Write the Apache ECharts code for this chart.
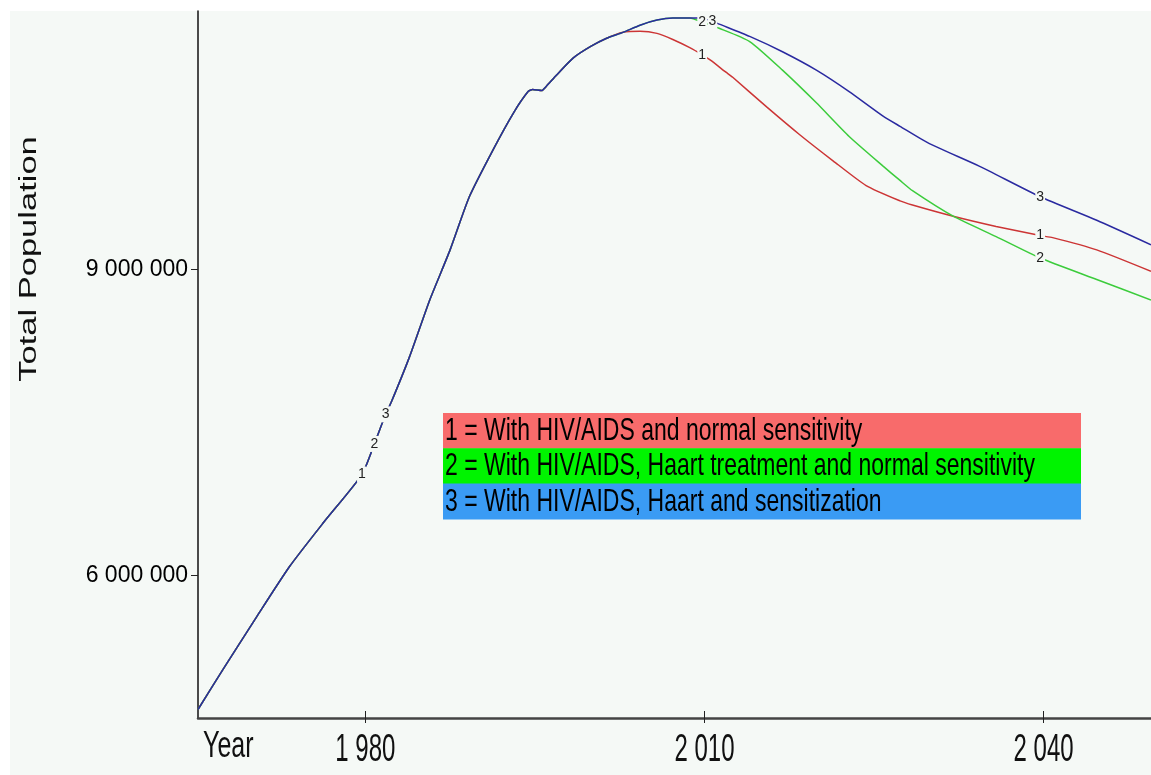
<!DOCTYPE html>
<html><head><meta charset="utf-8">
<script src="https://cdn.jsdelivr.net/npm/echarts@6/dist/echarts.min.js"></script>
<style>html,body{margin:0;padding:0;background:#fff;}#c{width:1151px;height:775px;}</style>
</head><body><div id="c"></div>
<script>
// ---- data (population) ----
const seriesNames = [
  '1 = With HIV/AIDS and normal sensitivity',
  '2 = With HIV/AIDS, Haart treatment and normal sensitivity',
  '3 = With HIV/AIDS, Haart and sensitization'
];
const seriesIds = ['1', '2', '3'];
// common history of all three runs
const sharedYears = [1965.2, 1967.4, 1970.4, 1973.3, 1976.3, 1979.7, 1980.8, 1981.8, 1982.3, 1983.9, 1985.7, 1987.5, 1989.2, 1991.3, 1993.1, 1994.4, 1994.8, 1995.6, 1996.0, 1996.9, 1998.4, 1999.9, 2001.3, 2002.8];
const sharedPop = [4690000, 5080000, 5600000, 6090000, 6520000, 6990000, 7290000, 7580000, 7700000, 8140000, 8700000, 9190000, 9710000, 10170000, 10530000, 10740000, 10760000, 10750000, 10790000, 10900000, 11070000, 11180000, 11260000, 11320000];
// common part of runs 2 and 3
const treatedYears = [2004.3, 2005.8, 2007.2, 2008.7];
const treatedPop = [11390000, 11440000, 11460000, 11460000];
// run 1
const s1Years = [2004.3, 2005.8, 2007.2, 2008.7, 2009.8, 2010.5, 2011.9, 2012.5, 2015.5, 2018.4, 2021.4, 2024.3, 2027.3, 2028.4, 2032.0, 2035.8, 2039.7, 2040.8, 2044.7, 2049.5];
const s1Pop = [11330000, 11310000, 11250000, 11170000, 11100000, 11050000, 10930000, 10880000, 10590000, 10320000, 10060000, 9820000, 9670000, 9630000, 9520000, 9420000, 9330000, 9310000, 9190000, 8980000];
// run 2
const s2Years = [2009.8, 2011.3, 2014.0, 2016.9, 2019.9, 2022.8, 2025.8, 2027.3, 2028.4, 2032.0, 2035.8, 2039.7, 2044.7, 2049.5];
const s2Pop = [11420000, 11360000, 11230000, 10950000, 10630000, 10300000, 10010000, 9870000, 9770000, 9520000, 9320000, 9110000, 8900000, 8700000];
// run 3
const s3Years = [2009.6, 2010.7, 2011.1, 2014.0, 2016.9, 2019.9, 2022.8, 2025.8, 2027.3, 2029.9, 2034.3, 2039.7, 2044.7, 2049.5];
const s3Pop = [11460000, 11430000, 11410000, 11280000, 11130000, 10950000, 10740000, 10500000, 10400000, 10230000, 10010000, 9710000, 9480000, 9240000];
// where the run numbers are written on the curves
const labelYears1 = [1979.7, 2009.8, 2039.7];
const labelYears2 = [1980.8, 2009.8, 2039.7];
const labelYears3 = [1981.8, 2010.7, 2039.7];
// axes
const xTickValues = [1980, 2010, 2040];
const xTickLabels = ['1 980', '2 010', '2 040'];
const yTickValues = [6000000, 9000000];
const yTickLabels = ['6 000 000', '9 000 000'];
const yAxisTitle = 'Total Population';
const xAxisTitle = 'Year';

// ---- styling ----
const BG = '#f5f9f6';
const lineColors = ['#cc3535', '#3ccc3c', '#2a2aa0'];
const legendColors = ['#f86b6b', '#00f400', '#3a9bf4'];
const FONT = '"Liberation Sans", Arial, sans-serif';

function build(years, pops) { return years.map((y, i) => [y, pops[i]]); }
const data1 = build(sharedYears.concat(s1Years), sharedPop.concat(s1Pop));
const data2 = build(sharedYears.concat(treatedYears, s2Years), sharedPop.concat(treatedPop, s2Pop));
const data3 = build(sharedYears.concat(treatedYears, s3Years), sharedPop.concat(treatedPop, s3Pop));
const allData = [data1, data2, data3];
const allLabelYears = [labelYears1, labelYears2, labelYears3];

function markPts(data, yrs) {
  return yrs.map(y => { const p = data.find(d => d[0] === y); return { coord: [p[0], p[1]] }; });
}

const series = allData.map((d, i) => ({
  type: 'line', name: seriesNames[i], data: d, symbol: 'none', animation: false,
  smooth: 0.2,
  lineStyle: { color: lineColors[i], width: 1.5 }, itemStyle: { color: lineColors[i] },
  z: 2 + i,
  markPoint: {
    silent: true, animation: false, symbol: 'circle', symbolSize: 1,
    itemStyle: { color: 'rgba(0,0,0,0)' },
    label: { show: true, position: 'inside', formatter: seriesIds[i], color: '#222', fontSize: 14,
      fontFamily: FONT, backgroundColor: BG, padding: [1, 1] },
    data: markPts(d, allLabelYears[i])
  }
}));

const chart = echarts.init(document.getElementById('c'));
chart.setOption({
  backgroundColor: BG,
  animation: false,
  grid: { left: 198, right: 0, top: 11, bottom: 57, containLabel: false },
  xAxis: [{
    type: 'value', min: 1965.2, max: 2049.5,
    axisLine: { show: true, lineStyle: { color: '#444', width: 2.5 } },
    axisTick: { show: true, customValues: xTickValues, length: 5, lineStyle: { color: '#222', width: 1 } },
    axisLabel: { show: false }, splitLine: { show: false }
  }, {
    type: 'value', min: 1965.2, max: 2049.5, position: 'bottom',
    axisLine: { show: false },
    axisTick: { show: true, inside: true, customValues: xTickValues, length: 7, lineStyle: { color: '#222', width: 1 } },
    axisLabel: { show: false }, splitLine: { show: false }
  }],
  yAxis: {
    type: 'value', min: 4606700, max: 11529000,
    axisLine: { show: true, lineStyle: { color: '#111', width: 1.5 } },
    axisTick: { show: true, customValues: yTickValues, length: 7, lineStyle: { color: '#222' } },
    axisLabel: { customValues: yTickValues, formatter: v => yTickLabels[yTickValues.indexOf(v)],
      fontSize: 23, color: '#000', fontFamily: FONT, margin: 10 },
    splitLine: { show: false }
  },
  series: series
});

const gfx = [
  { type: 'rect', z: 0, shape: { x: 0, y: 0, width: 1151, height: 11 }, style: { fill: '#ffffff' } },
  { type: 'rect', z: 0, shape: { x: 0, y: 0, width: 10, height: 775 }, style: { fill: '#ffffff' } },
  { type: 'text', z: 10, x: 30, y: 259, rotation: Math.PI / 2, scaleX: 1.5,
    style: { text: yAxisTitle, fontSize: 23, fontFamily: FONT, fill: '#111', align: 'center', verticalAlign: 'middle' } },
  { type: 'text', z: 10, x: 203, y: 747, scaleY: 1.5,
    style: { text: xAxisTitle, fontSize: 25, fontFamily: FONT, fill: '#111', align: 'left', verticalAlign: 'middle' } }
];
xTickValues.forEach((v, i) => {
  const px = chart.convertToPixel({ xAxisIndex: 0 }, v);
  gfx.push({ type: 'text', z: 10, x: px, y: 750, scaleY: 1.6,
    style: { text: xTickLabels[i], fontSize: 24, fontFamily: FONT, fill: '#111', align: 'center', verticalAlign: 'middle' } });
});
const legTop = 413, rowH = 35.3;
seriesNames.forEach((n, i) => {
  gfx.push({ type: 'rect', z: 10, shape: { x: 443, y: legTop + i * rowH, width: 638, height: rowH + 0.5 }, style: { fill: legendColors[i] } });
  gfx.push({ type: 'text', z: 11, x: 445, y: legTop + i * rowH + rowH / 2 + 1, scaleY: 1.33,
    style: { text: n, fontSize: 23, fontFamily: FONT, fill: '#000', align: 'left', verticalAlign: 'middle' } });
});
chart.setOption({ graphic: gfx });
</script>
</body></html>
